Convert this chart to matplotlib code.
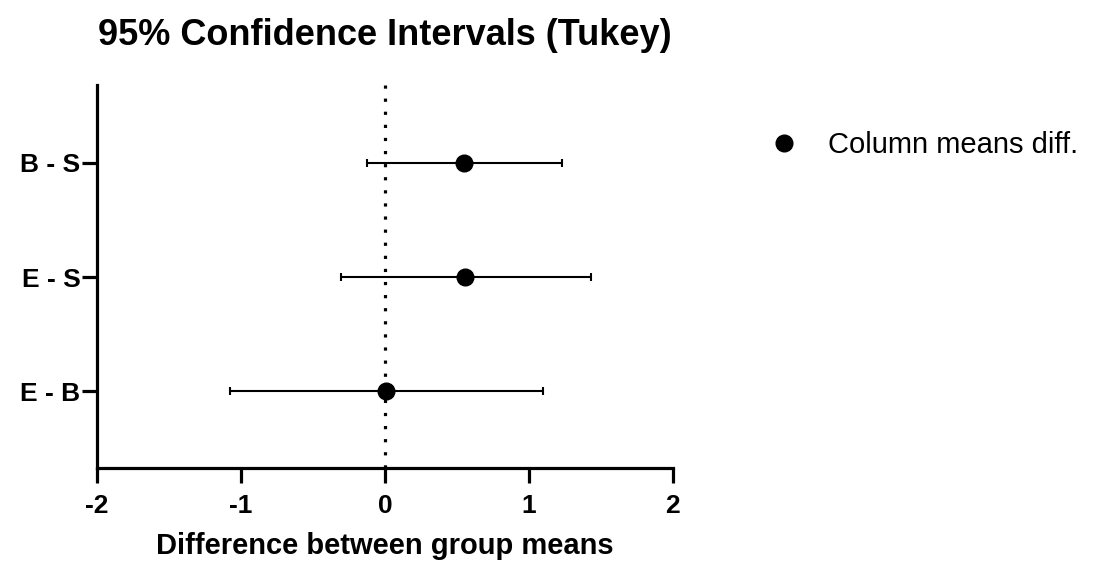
import matplotlib.pyplot as plt

plt.rcParams['font.family'] = ['Liberation Sans', 'DejaVu Sans']

comparisons = ['E - B', 'E - S', 'B - S']
mean_diff = [0.008, 0.558, 0.549]
ci_low = [-1.077, -0.308, -0.126]
ci_high = [1.099, 1.43, 1.23]

fig = plt.figure(figsize=(11.03, 5.72), dpi=100)
ax = fig.add_axes([0.088, 0.182, 0.522, 0.669])

ypos = list(range(1, len(comparisons) + 1))
err_lo = [m - l for m, l in zip(mean_diff, ci_low)]
err_hi = [h - m for m, h in zip(mean_diff, ci_high)]

ax.axvline(0, color='black', lw=2.3, linestyle=(0, (1, 3.1)), zorder=1)
ax.errorbar(mean_diff, ypos, xerr=[err_lo, err_hi], fmt='o', color='black',
            ms=12, elinewidth=1.5, capsize=3, capthick=1.5, zorder=3,
            label='Column means diff.')

ax.set_xlim(-2, 2)
ax.set_ylim(0.33, 3.68)
ax.set_xticks([-2, -1, 0, 1, 2])
ax.set_xticklabels(['-2', '-1', '0', '1', '2'])
ax.set_yticks(ypos)
ax.set_yticklabels(comparisons)

for s in ['top', 'right']:
    ax.spines[s].set_visible(False)
for s in ['left', 'bottom']:
    ax.spines[s].set_linewidth(2.3)
ax.tick_params(width=2.3, length=11)
ax.tick_params(axis='x', labelsize=19, pad=8)
ax.tick_params(axis='y', labelsize=19, pad=1)
for t in ax.get_xticklabels() + ax.get_yticklabels():
    t.set_fontweight('bold')

ax.set_xlabel('Difference between group means', fontsize=21, fontweight='bold', labelpad=10)
ax.set_title('95% Confidence Intervals (Tukey)', fontsize=26, fontweight='bold', pad=29)

handles, labels = ax.get_legend_handles_labels()
fig.legend([plt.Line2D([], [], marker='o', color='black', ls='none', ms=12)], labels,
           loc='center left', bbox_to_anchor=(0.661, 0.746), frameon=False, fontsize=21,
           handletextpad=0.5)

fig.savefig('out.png', dpi=100)
